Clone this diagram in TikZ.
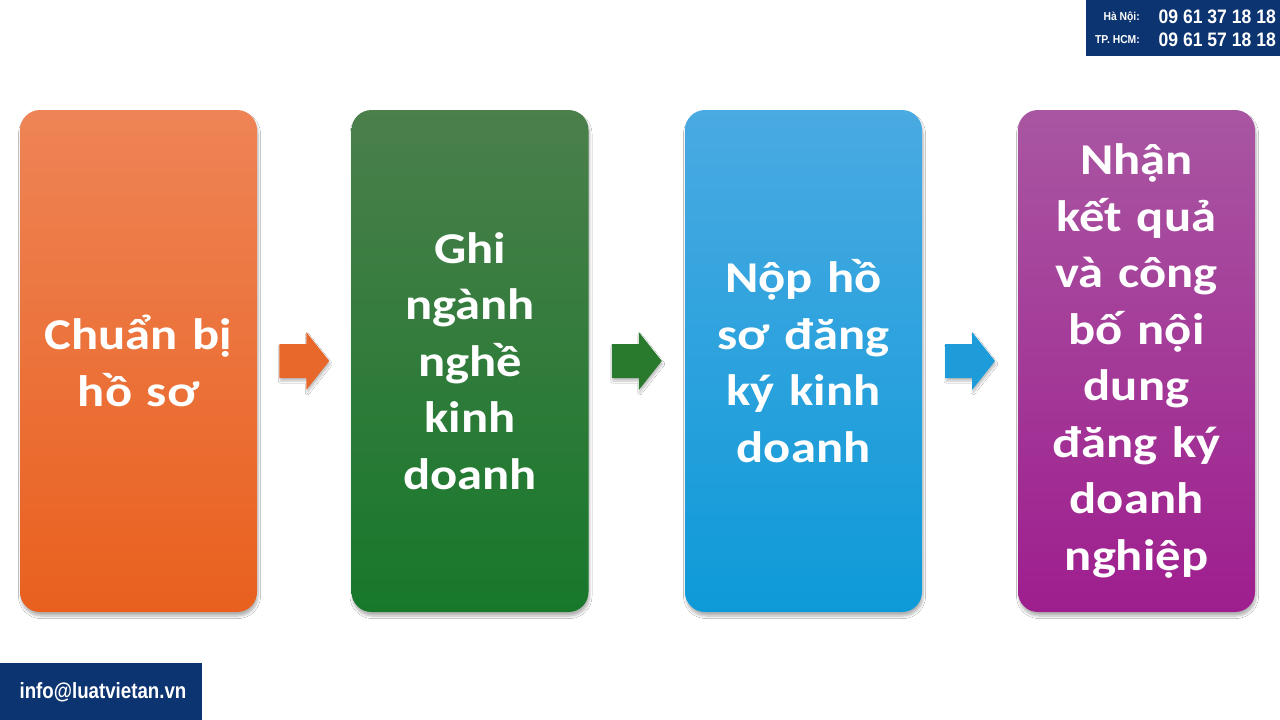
\documentclass[tikz,border=0pt]{standalone}
\usepackage{fontspec}
\setmainfont{Carlito}
\newfontfamily\boxfont[FakeStretch=1.15]{Carlito}
\newfontfamily\hdrfont{Liberation Sans}
\usetikzlibrary{shadows,shadows.blur,calc}
\definecolor{navy}{HTML}{0C3470}
\definecolor{orTop}{HTML}{EE8456}
\definecolor{orBot}{HTML}{E9601E}
\definecolor{grTop}{HTML}{4B7F4C}
\definecolor{grBot}{HTML}{17782A}
\definecolor{blTop}{HTML}{4AAAE2}
\definecolor{blBot}{HTML}{0E9AD8}
\definecolor{puTop}{HTML}{A956A2}
\definecolor{puBot}{HTML}{9E1E8E}
\definecolor{arOr}{HTML}{E8682C}
\definecolor{arGr}{HTML}{2A7A2E}
\definecolor{arBl}{HTML}{1E9CDA}
\tikzset{
  stepbox/.style={rounded corners=20pt, minimum width=237pt, minimum height=502pt,
    inner sep=0pt, text=white, align=center, text width=235pt,
    font=\boxfont\bfseries\fontsize{44}{56.5}\selectfont,
    blur shadow={shadow xshift=1pt, shadow yshift=-4pt, shadow opacity=30, shadow blur radius=2.5pt, shadow blur steps=8}},
  blockarrow/.style={blur shadow={shadow xshift=1pt, shadow yshift=-3pt, shadow opacity=25, shadow blur radius=2pt, shadow blur steps=6}},
  hdrsmall/.style={text=white, inner sep=0pt, font=\hdrfont\bfseries\fontsize{11.5}{13}\selectfont},
  hdrbig/.style={text=white, inner sep=0pt, font=\hdrfont\bfseries\fontsize{19.5}{22}\selectfont}
}
\newcommand{\narrow}[2]{\scalebox{#1}[1]{#2}}
\begin{document}
\begin{tikzpicture}[x=1pt,y=-1pt]
\useasboundingbox (0,0) rectangle (1280,720);
\fill[white] (0,0) rectangle (1280,720);

% header
\fill[navy] (1086,0) rectangle (1280,56);
\node[hdrsmall, anchor=east] (hnL) at (1140,17) {\narrow{0.9}{Hà Nội:}};
\node[hdrsmall, anchor=east] (hcL) at (1140,40) {\narrow{0.9}{TP. HCM:}};
\node[hdrbig, anchor=east] (hnN) at (1276,17) {\narrow{0.9}{09 61 37 18 18}};
\node[hdrbig, anchor=east] (hcN) at (1276,40) {\narrow{0.9}{09 61 57 18 18}};

% footer
\fill[navy] (0,663) rectangle (202,720);
\node[text=white, inner sep=0pt, font=\hdrfont\bfseries\fontsize{22}{26}\selectfont] (mail) at (103,692) {\narrow{0.85}{info@luatvietan.vn}};

% boxes
\node[stepbox, top color=orTop, bottom color=orBot] (b1) at (138.5,361) {Chuẩn bị\\hồ sơ};
\node[stepbox, top color=grTop, bottom color=grBot] (b2) at (470,361) {Ghi\\ngành\\nghề\\kinh\\doanh};
\node[stepbox, top color=blTop, bottom color=blBot] (b3) at (803.5,361) {Nộp hồ\\sơ đăng\\ký kinh\\doanh};
\node[stepbox, top color=puTop, bottom color=puBot] (b4) at (1136.5,361) {Nhận\\kết quả\\và công\\bố nội\\dung\\đăng ký\\doanh\\nghiệp};

% arrows between boxes
\coordinate (a1) at ($(b1.east)!0.5!(b2.west)$);
\coordinate (a2) at ($(b2.east)!0.5!(b3.west)$);
\coordinate (a3) at ($(b3.east)!0.5!(b4.west)$);
\foreach \c/\col in {a1/arOr,a2/arGr,a3/arBl}{
  \fill[\col, blockarrow] ($(\c)+(-25,-17)$) -- ($(\c)+(2,-17)$) -- ($(\c)+(2,-29)$) -- ($(\c)+(25,0)$)
     -- ($(\c)+(2,29)$) -- ($(\c)+(2,17)$) -- ($(\c)+(-25,17)$) -- cycle;
}
\end{tikzpicture}
\end{document}
